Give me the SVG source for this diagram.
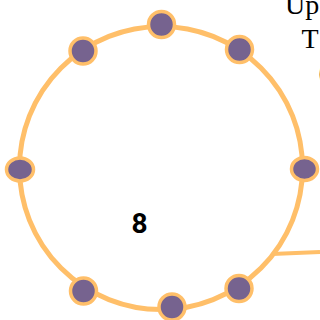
<svg xmlns="http://www.w3.org/2000/svg" width="320" height="320" viewBox="0 0 320 320">
  <style>
    .ring { fill: none; stroke: #FFBF69; stroke-width: 5; }
    .dot { fill: #76638F; stroke: #FFBF69; stroke-width: 3.5; }
    .link { fill: none; stroke: #FFBF69; stroke-width: 4; }
    .count { font-family: Roboto, "DejaVu Sans", sans-serif; font-weight: bold; font-size: 28px; fill: #000; }
    .label { font-family: "Liberation Serif", serif; font-size: 28px; fill: #000; }
  </style>
  <rect width="320" height="320" fill="#fff"/>

  <g id="connectors">
    <path class="link" d="M272 254 L320 252"/>
  </g>

  <g id="cluster">
    <circle class="ring" cx="161" cy="168" r="141.5"/>
    <text class="count" x="139.5" y="233" text-anchor="middle">8</text>
  </g>

  <g id="node-top"><circle class="dot" cx="161.5" cy="24.5" r="13"/></g>
  <g id="node-top-right"><circle class="dot" cx="239.5" cy="49.5" r="13"/></g>
  <g id="node-right"><ellipse class="dot" cx="304.5" cy="169" rx="13" ry="11.5"/></g>
  <g id="node-bottom-right"><circle class="dot" cx="239" cy="288.5" r="13"/></g>
  <g id="node-bottom"><circle class="dot" cx="172" cy="307" r="13"/></g>
  <g id="node-bottom-left"><circle class="dot" cx="83.5" cy="291" r="13"/></g>
  <g id="node-left"><ellipse class="dot" cx="20" cy="169.5" rx="13.5" ry="11.5"/></g>
  <g id="node-top-left"><circle class="dot" cx="83" cy="51" r="13"/></g>

  <g id="caption">
    <text class="label" x="285" y="14">Up</text>
    <text class="label" x="301.5" y="48">T</text>
    <text class="label" x="318.5" y="81">(</text>
  </g>
</svg>
